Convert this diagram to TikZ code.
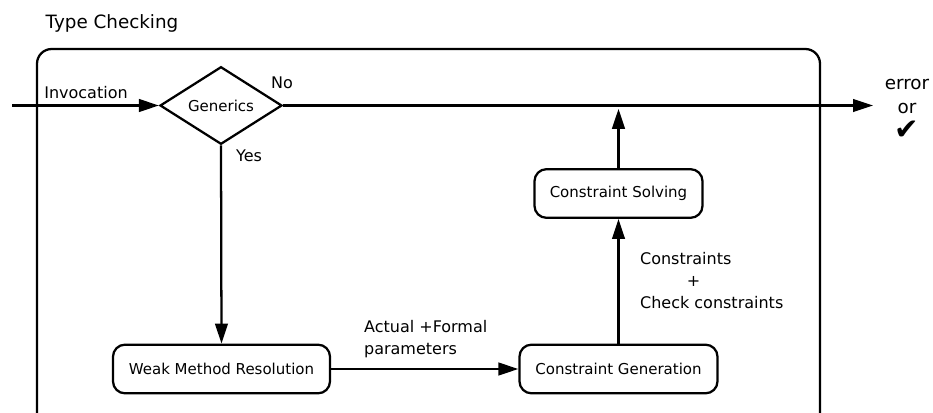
\documentclass[tikz,border=0pt]{standalone}
\usepackage{fontspec}
\setmainfont{DejaVu Sans}
\usetikzlibrary{shapes.geometric,arrows.meta}

\begin{document}
\begin{tikzpicture}[x=0.75pt,y=-0.75pt,>={Triangle[length=15pt,width=9.5pt]},line width=1.7pt,
    stepbox/.style={draw,rounded corners=9pt,minimum height=36.5pt,inner sep=0pt,font=\fontsize{11.25}{13}\selectfont},
    decision/.style={draw,diamond,minimum width=91.5pt,minimum height=54pt,inner sep=0pt,font=\fontsize{11.25}{13}\selectfont},
    lbl/.style={inner sep=0pt,font=\fontsize{12}{16.5}\selectfont}]
    \useasboundingbox (0,0) rectangle (933,412);
    \node[inner sep=0pt,font=\fontsize{13.75}{16}\selectfont] (title) at (112,23) {Type Checking};
    \draw[rounded corners=11pt] (37,49) rectangle (820,440);
    % steps
    \node[decision] (gen) at (221,105.5) {Generics};
    \node[stepbox,minimum width=162.75pt] (wmr) at (221.5,369) {Weak Method Resolution};
    \node[stepbox,minimum width=148.5pt] (cg) at (618.5,369) {Constraint Generation};
    \node[stepbox,minimum width=126pt] (cs) at (618.5,193.5) {Constraint Solving};
    \coordinate (in) at (12,105.5);
    \coordinate (out) at (873,105.5);
    \coordinate (join) at (cs.north |- gen.east);
    % connectors
    \draw[->] (in) -- (gen.west);
    \draw[->] (gen.east) -- (out);
    \draw[->] (gen.south) -- (wmr.north);
    \draw[->] (wmr.east) -- (cg.west);
    \draw[->] (cg.north) -- (cs.north |- cs.south);
    \draw[->,shorten >=2.5pt] (cs.north) -- (join);
    % labels
    \node[lbl] (inv) at (86,93) {Invocation};
    \node[lbl] (no) at (282,83) {No};
    \node[lbl] (yes) at (249,156) {Yes};
    \node[lbl,align=left,anchor=west] (par) at (363,339.5) {Actual +Formal\\parameters};
    \node[lbl,align=left,anchor=west] (cons) at (639,281) {Constraints\\\hspace*{35pt}+\\Check constraints};
    \node[inner sep=0pt,align=center,font=\fontsize{13.75}{18}\selectfont] (res) at (907,96) {error\\or};
    \node[inner sep=0pt,font=\fontsize{22}{22}\selectfont] (ok) at (907,130) {✔};
\end{tikzpicture}
\end{document}
